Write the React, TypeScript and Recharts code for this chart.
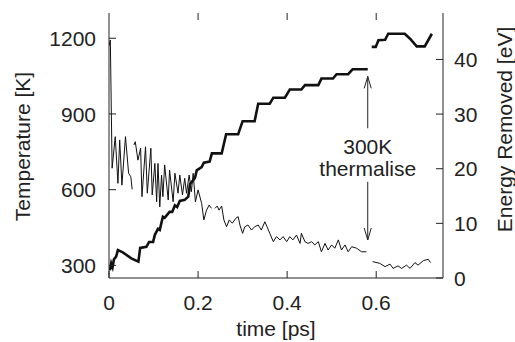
import { LineChart, Line, XAxis, YAxis, ReferenceLine, ReferenceDot } from "recharts"

// temperature of the system (thin line, left axis); null = break in the trace
const tempTime = [
  0, 0.003, 0.007, 0.014, 0.02, 0.024, 0.029, 0.037, 0.044, 0.049, 0.052, 0.054,
  0.056, 0.059, 0.065, 0.071, 0.074, 0.082, 0.086, 0.094, 0.097, 0.103, 0.107, 0.11,
  0.114, 0.118, 0.121, 0.125, 0.133, 0.136, 0.144, 0.148, 0.155, 0.159, 0.165, 0.17,
  0.174, 0.18, 0.185, 0.189, 0.194, 0.2, 0.208, 0.213, 0.219, 0.225, 0.23, 0.234,
  0.238, 0.243, 0.247, 0.253, 0.258, 0.264, 0.27, 0.277, 0.285, 0.29, 0.294, 0.3,
  0.305, 0.312, 0.32, 0.327, 0.335, 0.342, 0.35, 0.355, 0.361, 0.369, 0.376, 0.384,
  0.391, 0.399, 0.406, 0.413, 0.421, 0.429, 0.432, 0.44, 0.447, 0.455, 0.462, 0.47,
  0.477, 0.485, 0.492, 0.5, 0.507, 0.515, 0.522, 0.53, 0.537, 0.545, 0.556, 0.567,
  0.578, 0.585, 0.592, 0.608, 0.62, 0.631, 0.638, 0.649, 0.657, 0.668, 0.676, 0.687,
  0.694, 0.706, 0.717, 0.722,
]
const tempK = [
  1170, 1193, 685, 810, 625, 797, 618, 810, 665, 651, 601, null,
  777, 790, 717, 764, 572, 770, 586, 764, 579, 704, 552, 704,
  532, 658, 572, 698, 559, 678, 552, 665, 586, 658, 579, 645,
  586, 658, 592, 665, 552, 599, 546, 480, 519, 539, 526, null,
  526, 535, 519, 535, 480, 453, 480, 467, 487, 493, 460, 427,
  453, 460, 440, 453, 460, 440, 473, 453, 427, 394, 414, 401,
  414, 394, 414, 401, 420, 387, 427, 394, 387, 394, 381, 394,
  354, 387, 361, 381, 368, 401, 361, 381, 354, 374, 368, 354,
  354, null, 315, 308, 295, 305, 288, 298, 288, 301, 288, 311,
  301, 319, 324, 311,
]

// energy removed by the thermostat (thick line, right axis)
const energyTime = [
  0.002, 0.005, 0.008, 0.011, 0.016, 0.02, 0.031, 0.05, 0.066, 0.07, 0.084, 0.09,
  0.099, 0.103, 0.11, 0.114, 0.121, 0.125, 0.136, 0.142, 0.148, 0.153, 0.159, 0.17,
  0.178, 0.182, 0.193, 0.197, 0.208, 0.213, 0.226, 0.231, 0.253, 0.263, 0.29, 0.3,
  0.327, 0.335, 0.361, 0.369, 0.395, 0.406, 0.432, 0.44, 0.47, 0.477, 0.503, 0.511,
  0.537, 0.547, 0.581, 0.585, 0.59, 0.599, 0.605, 0.62, 0.627, 0.664, 0.676, 0.691,
  0.709, 0.725,
]
const energyEV = [
  1.4, 2.7, 2.0, 3.4, 3.9, 5.1, 4.7, 3.6, 3.0, 5.5, 5.7, 6.6,
  6.6, 7.9, 9.0, 8.8, 11.2, 11.0, 12.1, 12.1, 13.3, 13.0, 14.1, 14.3,
  14.9, 17.2, 18.3, 19.7, 20.3, 21.1, 21.3, 22.8, 22.8, 26.3, 26.3, 28.7,
  28.7, 31.9, 31.9, 33.0, 33.0, 34.5, 34.5, 35.3, 35.3, 36.5, 36.5, 37.3,
  37.3, 38.2, 38.2, null, 42.3, 42.3, 43.5, 43.6, 44.7, 44.7, 43.8, 42.4,
  42.4, 44.7,
]

const timeTicks = [0, 0.2, 0.4, 0.6]
const tempTicks = [300, 600, 900, 1200]
const energyTicks = [0, 10, 20, 30, 40]
const energyMax = 48.5

// annotation, in data units (time, energy)
const noteTime = 0.581
const upArrow = [27.4, 36.9]
const downArrow = [17.6, 6.95]
const noteEnergy = 20.66
const noteLines = ["300K", "thermalise"]

const tempData = tempTime.map((t, i) => ({ t, v: tempK[i] }))
const energyData = energyTime.map((t, i) => ({ t, v: energyEV[i] }))

const font = "Liberation Sans, Arial, Helvetica, sans-serif"
const ink = "#222"

// tick labels drawn by hand so the sans font sticks
const makeTick = (anchor: "start" | "middle" | "end", dy: string) => (p: any) => (
  <text x={p.x} y={p.y} dy={dy} textAnchor={anchor} fill={ink} fontSize={21} fontFamily={font}>
    {String(p.payload.value)}
  </text>
)
const bottomTick = makeTick("middle", "0.71em")
const leftTick = makeTick("end", "0.36em")
const rightTick = makeTick("start", "0.36em")

// short inward tick hanging from the top frame
function TopTick(props: any) {
  const { x1, y1 } = props
  return <line x1={x1} y1={y1} x2={x1} y2={y1 + 7} stroke={ink} strokeWidth={1} />
}

function Arrow(props: any) {
  const { x1, y1, x2, y2 } = props
  const dir = y2 > y1 ? 1 : -1
  return (
    <g stroke={ink} strokeWidth={1} fill="none">
      <line x1={x1} y1={y1} x2={x2} y2={y2} />
      <path d={`M${x2 - 3.5},${y2 - dir * 12} L${x2},${y2} L${x2 + 3.5},${y2 - dir * 12}`} />
    </g>
  )
}

function Note(props: any) {
  const { cx, cy } = props
  return (
    <g fill={ink} fontSize={21} fontFamily={font} textAnchor="middle">
      <text x={cx} y={cy - 11}>{noteLines[0]}</text>
      <text x={cx} y={cy + 11}>{noteLines[1]}</text>
    </g>
  )
}

const leftLabel = (p: any) => {
  const vb = p.viewBox
  const x = vb.x + 30
  const y = vb.y + vb.height / 2 + 1
  return (
    <text transform={`translate(${x},${y}) rotate(-90)`} textAnchor="middle" fill={ink} fontSize={21} fontFamily={font}>
      Temperature [K]
    </text>
  )
}

const rightLabel = (p: any) => {
  const vb = p.viewBox
  const x = vb.x + 68.5
  const y = vb.y + vb.height / 2 - 16
  return (
    <text transform={`translate(${x},${y}) rotate(-90)`} textAnchor="middle" fill={ink} fontSize={21} fontFamily={font}>
      Energy Removed [eV]
    </text>
  )
}

const bottomLabel = (p: any) => {
  const vb = p.viewBox
  return (
    <text x={vb.x + vb.width / 2} y={vb.y + 58} textAnchor="middle" fill={ink} fontSize={21} fontFamily={font}>
      time [ps]
    </text>
  )
}

export default function App() {
  return (
    <div style={{ position: "absolute", left: 0, top: 0, background: "#fff", fontFamily: font }}>
      <LineChart width={515} height={342} margin={{ top: 13, right: 0, bottom: 0, left: 0 }}>
        <XAxis
          xAxisId="b"
          type="number"
          dataKey="t"
          domain={[0, 0.75]}
          ticks={timeTicks}
          interval={0}
          allowDataOverflow
          height={64}
          tickSize={-7}
          tickMargin={24}
          tick={bottomTick}
          stroke={ink}
          label={bottomLabel}
        />
        <XAxis
          xAxisId="top"
          orientation="top"
          type="number"
          dataKey="t"
          domain={[0, 0.75]}
          ticks={timeTicks}
          allowDataOverflow
          height={0}
          tick={false}
          tickLine={false}
          stroke={ink}
        />
        <YAxis
          yAxisId="temp"
          type="number"
          domain={[250, 1300]}
          ticks={tempTicks}
          interval={0}
          allowDataOverflow
          width={109}
          tickSize={-7}
          tickMargin={20}
          tick={leftTick}
          stroke={ink}
          label={leftLabel}
        />
        <YAxis
          yAxisId="energy"
          orientation="right"
          type="number"
          domain={[0, energyMax]}
          ticks={energyTicks}
          interval={0}
          allowDataOverflow
          width={72}
          tickSize={-7}
          tickMargin={18}
          tick={rightTick}
          stroke={ink}
          label={rightLabel}
        />
        {timeTicks.slice(1).map((t) => (
          <ReferenceLine
            key={t}
            xAxisId="b"
            yAxisId="energy"
            segment={[{ x: t, y: energyMax }, { x: t, y: energyMax - 1 }]}
            shape={TopTick}
          />
        ))}
        <Line
          xAxisId="b"
          yAxisId="temp"
          data={tempData}
          dataKey="v"
          type="linear"
          stroke="#111"
          strokeWidth={1}
          dot={false}
          isAnimationActive={false}
        />
        <Line
          xAxisId="b"
          yAxisId="energy"
          data={energyData}
          dataKey="v"
          type="linear"
          stroke="#111"
          strokeWidth={2.6}
          dot={false}
          isAnimationActive={false}
        />
        <ReferenceLine
          xAxisId="b"
          yAxisId="energy"
          segment={[{ x: noteTime, y: upArrow[0] }, { x: noteTime, y: upArrow[1] }]}
          shape={Arrow}
        />
        <ReferenceLine
          xAxisId="b"
          yAxisId="energy"
          segment={[{ x: noteTime, y: downArrow[0] }, { x: noteTime, y: downArrow[1] }]}
          shape={Arrow}
        />
        <ReferenceDot xAxisId="b" yAxisId="energy" x={noteTime} y={noteEnergy} shape={Note} />
      </LineChart>
    </div>
  )
}
